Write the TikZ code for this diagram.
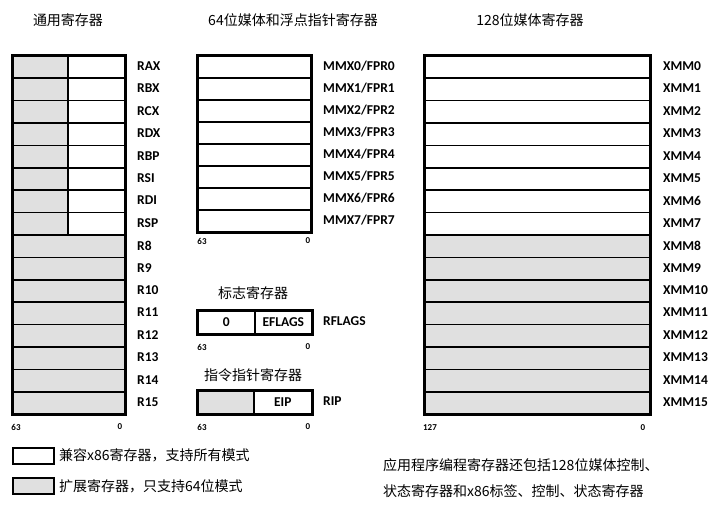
\documentclass[tikz,border=0pt]{standalone}
\usepackage{fontspec}
\setmainfont{Noto Sans CJK SC}
\newfontfamily\labfont{Carlito}
\definecolor{extgray}{HTML}{E0E0E0}
\begin{document}
\begin{tikzpicture}[x=1pt,y=-1pt,
  cell/.style={draw=black,line width=1.6pt,rectangle,inner sep=0pt,anchor=north west},
  wcell/.style={cell,fill=white},
  gcell/.style={cell,fill=extgray},
  frame/.style={draw=black,line width=2.2pt},
  lab/.style={anchor=west,inner sep=0pt,font=\labfont\bfseries\fontsize{13.5}{13.5}\selectfont},
  inlab/.style={inner sep=0pt,font=\labfont\bfseries\fontsize{13.5}{13.5}\selectfont},
  bit/.style={inner sep=0pt,font=\labfont\bfseries\fontsize{9}{9}\selectfont},
  head/.style={inner sep=0pt,font=\fontsize{14}{14}\selectfont},
  note/.style={anchor=west,inner sep=0pt,font=\fontsize{14}{14}\selectfont}]
\useasboundingbox (0,0) rectangle (716,505);
\fill[white] (0,0) rectangle (716,505);
% headers
\node[head] (h1) at (68,20) {通用寄存器};
\node[head] (h2) at (293,20) {64位媒体和浮点指针寄存器};
\node[head] (h3) at (530,20) {128位媒体寄存器};
% general purpose registers
\foreach \n [count=\i from 0] in {RAX,RBX,RCX,RDX,RBP,RSI,RDI,RSP} {
  \node[gcell,minimum width=55pt,minimum height=22.4pt] (ga\i) at (12,{55+22.4*\i}) {};
  \node[wcell,minimum width=57pt,minimum height=22.4pt] (gb\i) at (67,{55+22.4*\i}) {};
  \node[lab] (gl\i) at (137,{66.2+22.4*\i}) {\n};
}
\foreach \n [count=\i from 8] in {R8,R9,R10,R11,R12,R13,R14,R15} {
  \node[gcell,minimum width=112pt,minimum height=22.4pt] (ga\i) at (12,{55+22.4*\i}) {};
  \node[lab] (gl\i) at (137,{66.2+22.4*\i}) {\n};
}
\draw[frame] (ga0.north west) rectangle (ga15.south east);
\node[bit] (g63) at (16,427) {63};
\node[bit] (g0) at (120,427) {0};
% MMX registers
\foreach \i in {0,...,7} {
  \node[wcell,minimum width=113pt,minimum height=22pt] (m\i) at (197,{55+22*\i}) {};
  \node[lab] (ml\i) at (323,{66+22*\i}) {MMX\i/FPR\i};
}
\draw[frame] (m0.north west) rectangle (m7.south east);
\node[bit] (m63) at (202,241) {63};
\node[bit] (m0b) at (308,241) {0};
% flags
\node[head] (fh) at (253,293) {标志寄存器};
\node[wcell,minimum width=57pt,minimum height=23pt] (fa) at (197,310) {};
\node[wcell,minimum width=57pt,minimum height=23pt] (fb) at (254,310) {};
\draw[frame] (fa.north west) rectangle (fb.south east);
\node[inlab] (fat) at (fa.center) {0};
\node[inlab] (fbt) at (fb.center) {EFLAGS};
\node[lab] (fl) at (323,321.5) {RFLAGS};
\node[bit] (f63) at (202,347) {63};
\node[bit] (f0) at (308,347) {0};
% instruction pointer
\node[head] (ih) at (253,375) {指令指针寄存器};
\node[gcell,minimum width=56pt,minimum height=23pt] (ia) at (197,390) {};
\node[wcell,minimum width=58pt,minimum height=23pt] (ib) at (253,390) {};
\draw[frame] (ia.north west) rectangle (ib.south east);
\node[inlab] (ibt) at (ib.center) {EIP};
\node[lab] (il) at (323,401.5) {RIP};
\node[bit] (i63) at (202,427) {63};
\node[bit] (i0) at (308,427) {0};
% XMM registers
\foreach \i in {0,...,7} {
  \node[wcell,minimum width=225pt,minimum height=22.4pt] (x\i) at (424,{55+22.4*\i}) {};
  \node[lab] (xl\i) at (663,{66.2+22.4*\i}) {XMM\i};
}
\foreach \i in {8,...,15} {
  \node[gcell,minimum width=225pt,minimum height=22.4pt] (x\i) at (424,{55+22.4*\i}) {};
  \node[lab] (xl\i) at (663,{66.2+22.4*\i}) {XMM\i};
}
\draw[frame] (x0.north west) rectangle (x15.south east);
\node[bit] (x127) at (430,428) {127};
\node[bit] (x0b) at (643,428) {0};
% legend
\node[wcell,minimum width=41pt,minimum height=16pt] (lw) at (12,447) {};
\node[note] (lwt) at (59,455) {兼容x86寄存器，支持所有模式};
\node[gcell,minimum width=41pt,minimum height=16pt] (lg) at (12,477) {};
\node[note] (lgt) at (59,486) {扩展寄存器，只支持64位模式};
\node[note] (n1) at (383,465) {应用程序编程寄存器还包括128位媒体控制、};
\node[note] (n2) at (383,491) {状态寄存器和x86标签、控制、状态寄存器};
\end{tikzpicture}
\end{document}
